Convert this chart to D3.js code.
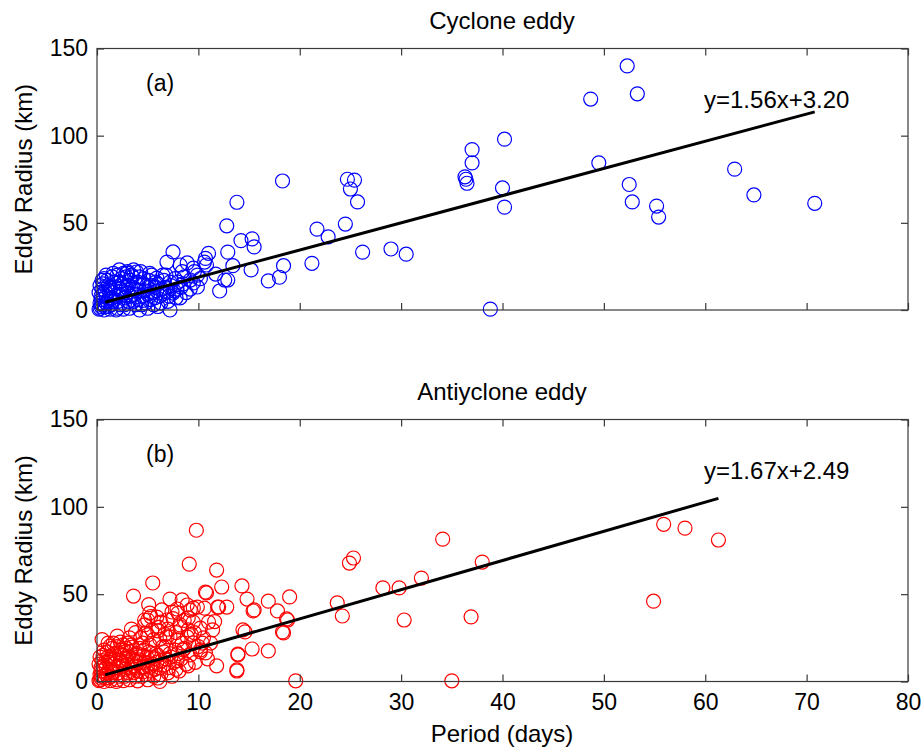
<!DOCTYPE html>
<html>
<head>
<meta charset="utf-8">
<script src="https://cdn.jsdelivr.net/npm/d3@7"></script>
<style>
  body { margin: 0; background: #fff; }
  text { font-family: "Liberation Sans", Arial, sans-serif; fill: #000; }
</style>
</head>
<body>
<div id="chart"></div>
<script>
// DATA  [period (days), eddy radius (km)]
var cyclone = [
  [52.3,140],[48.7,121],[53.3,124],[40.2,98],[37,92],[37,84.4],[36.3,76.4],[36.5,72.7],[36.4,75],
  [49.5,84.4],[40,70],[40.2,59],[52.5,72],[52.8,62],[55.2,59.6],[55.4,53.3],[62.9,80.8],[64.8,66],
  [70.8,61.2],[38.8,0.5],
  [24.7,75],[25.4,74.5],[25,69.4],[25.7,62],[24.5,49.3],[21.7,46.4],[22.8,42],[26.2,33.2],[29,35],
  [30.5,32],[21.2,26.8],[18.3,74],[18.4,25.4],[18,18.8],[16.9,16.7],[13.8,61.8],[12.8,48.3],
  [14.2,39.8],[15.3,40.8],[15.5,36.2],[15.2,23],[12.9,33.2],[13.4,25.4],[12.9,17.2],[12.1,10.9],
  [11.7,20.6],[11,32.5],[10.7,29.6],[10.8,25.8],[10.6,27.5],[7.5,33.3],[6.9,27.5],[7.2,0],[4.2,0],
  [8.2,7],[8.9,27],[8.2,25.8],[9.5,24],[3.9,21.8],[3,21.2],[5.4,20],[5.9,18.3],[9.9,20],[9.2,17.2],
  [9.5,15.5],[9.9,13.2],[12.6,17.2],[6.9,10.3],[7.5,9.7],[3.6,23],[4.3,22],[10.2,18],[9.6,22],
  [0.3,1],[0.5,3],[0.4,6],[0.6,9],[0.5,12],[0.8,2],[1,5],[0.9,8],[1.2,11],[1.1,14],[1.4,3],[1.5,7],
  [1.6,10],[1.8,13],[1.7,16],[2,1],[2.1,5],[2.2,9],[2.3,12],[2.5,15],[2.4,18],[2.7,3],[2.8,7],[3,10],
  [3.1,14],[3.3,17],[3.4,20],[3.6,5],[3.7,9],[3.8,12],[4,16],[4.2,19],[4.4,3],[4.5,8],[4.7,11],
  [4.9,14],[5.1,17],[5.3,6],[5.5,10],[5.7,13],[6,15],[6.2,8],[6.4,12],[6.6,17],[6.8,20],[7,5],
  [7.3,14],[7.6,11],[8,16],[8.3,13],[8.6,19],[0.2,0.5],[0.7,0],[1.3,0.5],[1.9,0],[2.6,0.5],[3.2,1],
  [0.3,4],[0.6,15],[1,17],[1.5,19],[2,20],[2.6,21],[3,22],[3.5,19],[0.4,2],[0.9,4],[1.2,7],[1.9,8],
  [2.4,11],[2.9,13],[3.3,8],[4.1,6],[4.8,4],[5.6,3],[6.3,4],[5,9],[5.9,11],[7.1,8],[7.9,12],[8.8,10],
  [6.5,20],[5.2,21],[4.6,18],[7.7,18],[8.4,22],[2.2,16],[1.3,13],[0.8,11],[0.4,8],[3.9,15],[5.8,16],
  [0.2,10],[0.3,14],[0.7,18],[1.6,21],[2.9,19],[4,11],[3.5,13],[4.6,15],[5.4,14],[6.8,13],[7.2,16],
  [1.1,2],[2.3,3],[3.8,3],[5,1],[6,2],[1.6,5],[2.6,9],[3.1,5],[4.5,5.5],[5.7,7],[6.6,9.5],[7.8,7],
  [8.5,15],[9.2,12],[0.9,20],[2.2,23],[0.5,17]
]

var anticyclone = [
  [55.9,90],[58,87.8],[61.3,81],[54.9,46],[38,68.4],[36.9,37],[34.1,81.5],[35,0.4],[32,59.2],
  [29.8,53.6],[28.2,53.6],[30.3,35.2],[25.3,70.7],[24.9,67.8],[23.7,45],[24.2,37.5],[19.6,0.4],
  [19,48.4],[16.9,46],[17.8,40.4],[18.7,35.8],[18.4,27.8],[16.9,17.5],[15.3,18.6],[13.9,15.7],
  [13.8,6],[14.3,54.7],[14.8,47.2],[15.5,41],[14.6,28.4],[12.8,42.6],[12.3,54.1],[11.8,63.8],
  [9.8,86.6],[9.1,67.2],[10.7,51.2],[12,42.6],[11.6,34.3],[11.8,9],[5.5,56.4],[3.6,48.9],[7.2,47.2],
  [8.4,46.7],[9.5,42],[7.9,41.5],[10.6,42],[4.7,35.2],[5.9,36.9],[5.3,37.2],[9,29.5],[10.2,30.6],
  [8.2,31.2],[6.9,25.5],[6.2,24.2],[4.8,27.5],[2.3,22.6],[1.3,20.3],[9,9],[6.2,0],[4,0.4],
  [10.4,22],[10,20],[10.2,17],[10.8,50.7],[8.9,43.8],[7.4,39.8],[8,39.2],[9.2,40.9],[9.9,42.6],
  [11.9,42.6],[15.4,40.4],[5.2,39.2],[5,35.2],[4.7,32.4],[5.4,29.5],[5,26.7],[6.9,35.2],[8.2,32.4],
  [9,36.4],[9.5,34],[11,34],[11.4,29.5],[7.2,25.5],[8,23.8],[8.9,25.5],[9.5,22.1],[10.2,18.1],
  [10.7,16.4],[9.2,15.2],[8.5,18.1],[13.8,6.7],[13.9,15.2],[14.4,29.5],[18.3,28.4],[18.8,35.2],
  [3.5,19.7],[4.2,12.4],[4.6,8.4],
  [0.3,1],[0.5,3],[0.4,6],[0.6,9],[0.5,12],[0.8,2],[1,5],[0.9,8],[1.2,11],[1.1,14],[1.4,3],[1.5,7],
  [1.6,10],[1.8,13],[1.7,16],[2,1],[2.1,5],[2.2,9],[2.3,12],[2.5,15],[2.4,18],[2.7,3],[2.8,7],[3,10],
  [3.1,14],[3.3,17],[3.4,21],[3.6,5],[3.7,9],[3.8,12],[4,16],[4.2,19],[4.4,3],[4.5,8],[4.7,11],
  [4.9,14],[5.1,17],[5.3,6],[5.5,10],[5.7,13],[6,15],[6.2,8],[6.4,12],[6.6,17],[6.8,20],[7,5],
  [7.3,14],[7.6,11],[8,16],[8.3,13],[8.6,19],[0.2,0.5],[0.7,0],[1.3,0.5],[1.9,0],[2.6,0.5],[3.2,1],
  [0.3,4],[0.6,15],[1,17],[1.5,19],[2,20],[2.6,21],[3,22],[0.4,2],[0.9,4],[1.2,7],[1.9,8],[2.4,11],
  [2.9,13],[3.3,8],[4.1,6],[4.8,4],[5.6,3],[6.3,4],[5,9],[5.9,11],[7.1,8],[7.9,12],[8.8,10],[6.5,20],
  [5.2,21],[4.6,18],[7.7,18],[8.4,22],[2.2,16],[1.3,13],[0.8,11],[0.4,8],[3.9,15],[5.8,16],[7.4,3],
  [6.7,27],[5.6,24],[4.3,25],[3.8,28],[7.8,28],[6.1,31],[9.3,27],[10.5,25],[11.2,22],[10.9,13],
  [9.7,11],[8.1,6],[2.8,17],[1.1,22],[4.5,22],[6,29],[7.5,36],[6.4,41],[3.2,25],
  [0.2,10],[0.3,14],[0.7,18],[1.6,22],[2.9,19],[4,11],[3.5,13],[4.6,15],[5.4,14],[6.8,13],[7.2,16],
  [1.1,2],[2.3,3],[3.8,3],[5,1],[6,2],[1.6,5],[2.6,9],[3.1,5],[4.5,5.5],[5.7,7],[6.6,9.5],[7.8,7],
  [0.5,24],[2,26],[3.4,30],[6.3,34],[5.1,44],[7,30],[8.6,35],[9.6,28]
]

var cycFit = {slope: 1.56, icpt: 3.20, x0: 0.8, x1: 70.8, label: 'y=1.56x+3.20'}
var antiFit = {slope: 1.67, icpt: 2.49, x0: 0.8, x1: 61.3, label: 'y=1.67x+2.49'}

var xTicks = [0, 10, 20, 30, 40, 50, 60, 70, 80]
var yTicks = [0, 50, 100, 150]

// GLOBAL
var width = 924
var height = 748
var svg = d3.select('#chart').append('svg')
  .attr('width', width)
  .attr('height', height)

var xMap = d3.scaleLinear().domain([0, 80]).range([97, 908])
var fontSize = 23
var tickLen = 7
var boxColour = '#3a3a3a'

function drawPanel(opts) {
  var yMap = d3.scaleLinear().domain([0, 150]).range([opts.bottom, opts.top])
  var g = svg.append('g')

  // points
  g.append('g').selectAll('circle')
    .data(opts.data)
    .enter().append('circle')
    .attr('cx', d => xMap(d[0]))
    .attr('cy', d => yMap(d[1]))
    .attr('r', 7)
    .style('fill', 'none')
    .style('stroke', opts.colour)
    .style('stroke-width', 1.2)

  // fit line
  var fit = opts.fit
  g.append('line')
    .attr('x1', xMap(fit.x0))
    .attr('y1', yMap(fit.slope * fit.x0 + fit.icpt))
    .attr('x2', xMap(fit.x1))
    .attr('y2', yMap(fit.slope * fit.x1 + fit.icpt))
    .style('stroke', '#000')
    .style('stroke-width', 3)

  // box
  g.append('rect')
    .attr('x', xMap(0))
    .attr('y', yMap(150))
    .attr('width', xMap(80) - xMap(0))
    .attr('height', yMap(0) - yMap(150))
    .style('fill', 'none')
    .style('stroke', boxColour)
    .style('stroke-width', 1.2)

  // ticks on all sides, pointing inward
  var xAxisB = d3.axisBottom(xMap).tickValues(xTicks).tickSizeInner(-tickLen).tickSizeOuter(0)
    .tickPadding(12).tickFormat(opts.xLabels ? d3.format('d') : '')
  var xAxisT = d3.axisTop(xMap).tickValues(xTicks).tickSizeInner(-tickLen).tickSizeOuter(0).tickFormat('')
  var yAxisL = d3.axisLeft(yMap).tickValues(yTicks).tickSizeInner(-tickLen).tickSizeOuter(0)
    .tickPadding(9).tickFormat(d3.format('d'))
  var yAxisR = d3.axisRight(yMap).tickValues(yTicks).tickSizeInner(-tickLen).tickSizeOuter(0).tickFormat('')

  var axes = [
    g.append('g').attr('transform', 'translate(0,' + yMap(0) + ')').call(xAxisB),
    g.append('g').attr('transform', 'translate(0,' + yMap(150) + ')').call(xAxisT),
    g.append('g').attr('transform', 'translate(' + xMap(0) + ',0)').call(yAxisL),
    g.append('g').attr('transform', 'translate(' + xMap(80) + ',0)').call(yAxisR)
  ]
  axes.forEach(function(a) {
    a.select('.domain').remove()
    a.selectAll('line').style('stroke', boxColour).style('stroke-width', 1.2)
    a.selectAll('text')
      .style('font-family', '"Liberation Sans", Arial, sans-serif')
      .style('font-size', fontSize + 'px')
      .style('fill', '#000')
  })

  // title
  g.append('text')
    .attr('x', 502)
    .attr('y', opts.top - 20)
    .style('text-anchor', 'middle')
    .style('font-size', (fontSize + 1) + 'px')
    .text(opts.title)

  // panel tag
  g.append('text')
    .attr('x', 146)
    .attr('y', opts.top + 42)
    .style('font-size', fontSize + 'px')
    .text(opts.tag)

  // equation
  g.append('text')
    .attr('x', 704)
    .attr('y', opts.top + 59)
    .style('font-size', (fontSize + 1) + 'px')
    .text(fit.label)

  // y label
  g.append('text')
    .attr('transform', 'translate(32,' + ((opts.top + opts.bottom) / 2) + ') rotate(-90)')
    .style('text-anchor', 'middle')
    .style('font-size', (fontSize + 1) + 'px')
    .text('Eddy Radius (km)')
}

// MAIN
drawPanel({data: cyclone, colour: '#0000ff', fit: cycFit, top: 48.5, bottom: 310,
  title: 'Cyclone eddy', tag: '(a)', xLabels: false})
drawPanel({data: anticyclone, colour: '#ff0000', fit: antiFit, top: 419.5, bottom: 681.5,
  title: 'Antiyclone eddy', tag: '(b)', xLabels: true})

svg.append('text')
  .attr('x', 502)
  .attr('y', 742)
  .style('text-anchor', 'middle')
  .style('font-size', (fontSize + 1) + 'px')
  .text('Period (days)')
</script>
</body>
</html>
